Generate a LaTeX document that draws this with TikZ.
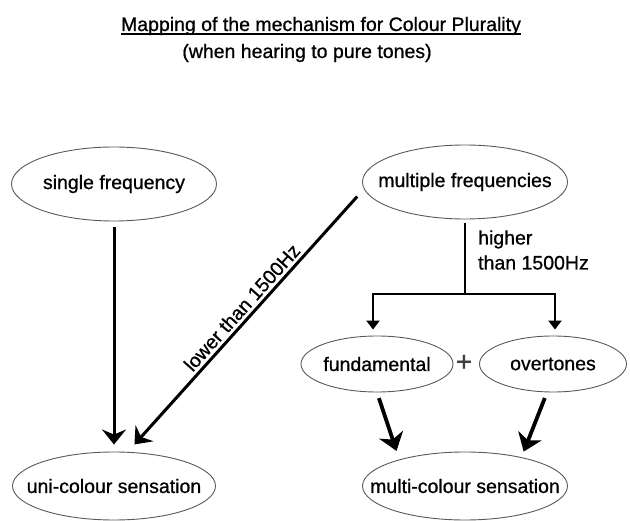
\documentclass[tikz,border=0pt]{standalone}
\usepackage{fontspec}
\setmainfont[FakeBold=0.8]{Liberation Sans}
\usetikzlibrary{arrows.meta,shapes.geometric}
\newcommand\ctr[1]{\makebox[0pt]{#1}}
\begin{document}
\begin{tikzpicture}[x=1pt,y=-1pt,
  font=\fontsize{19.5}{25}\selectfont,
  oval/.style={ellipse,draw=black!65,line width=0.9pt,inner sep=0pt},
  conn/.style={line width=3pt,-{Stealth[length=15pt,width=24pt,inset=5pt]}},
  thickarr/.style={line width=3.8pt,-{Stealth[length=17pt,width=25pt,inset=5pt]}},
  brk/.style={line width=2.6pt,{Triangle[length=9pt,width=13pt]}-{Triangle[length=9pt,width=13pt]}},
]
\useasboundingbox (0,0) rectangle (630,521);
\node[inner sep=0,anchor=base] (title) at (321,31) {Mapping of the mechanism for Colour Plurality};
\draw[line width=1.1pt] ([yshift=-3pt]title.base west) -- ([yshift=-3pt]title.base east);
\node[inner sep=0,anchor=base] (sub) at (307,58) {(when hearing to pure tones)};

\node[oval,minimum width=205,minimum height=74] (single) at (114,184) {\ctr{single frequency}};
\node[oval,minimum width=205,minimum height=74] (mult) at (465,182) {\ctr{multiple frequencies}};
\node[oval,minimum width=152,minimum height=56] (fund) at (377,364) {\ctr{fundamental}};
\node[oval,minimum width=147,minimum height=56] (over) at (553,364) {\ctr{overtones}};
\node[oval,minimum width=203,minimum height=68] (uni) at (114,486) {\ctr{uni-colour sensation}};
\node[oval,minimum width=205,minimum height=68] (multi) at (465,486) {\ctr{multi-colour sensation}};
\node[inner sep=0,text=black!75,font=\fontsize{28}{28}\selectfont] (plus) at (464,363) {+};

\draw[conn,shorten <=6pt,shorten >=7pt] (single.south) -- (uni.north);
\draw[conn,shorten <=10pt,shorten >=10pt] (mult.184) -- (uni.68)
  node[pos=0.48,sloped,above,inner sep=3pt] (low) {lower than 1500Hz};

\coordinate (br) at (465,294);
\draw[line width=2.6pt] ([yshift=-4pt]mult.south) -- (br);
\draw[brk,shorten <=6pt,shorten >=6pt] ([xshift=-4pt]fund.north) |- (br) -| ([xshift=2pt]over.north);
\node[anchor=west,align=left,inner sep=0] (hl) at (478,250) {higher\\than 1500Hz};

\draw[thickarr,shorten <=6pt,shorten >=9pt] (fund.south) -- (multi.158);
\draw[thickarr,shorten <=6pt,shorten >=6pt] ([xshift=-6pt]over.south) -- (multi.27);
\end{tikzpicture}
\end{document}
